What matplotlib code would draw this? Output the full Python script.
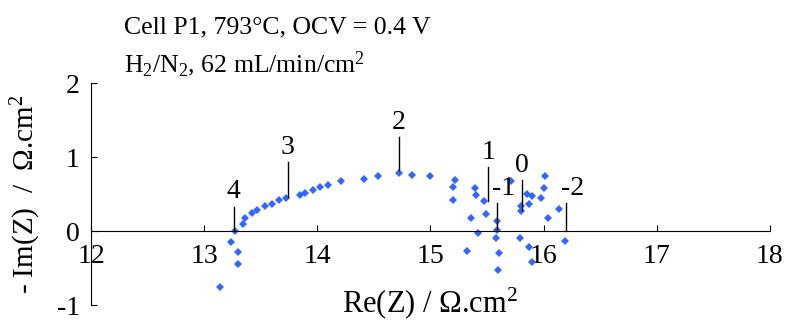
import matplotlib
matplotlib.use("Agg")
import matplotlib.pyplot as plt

plt.rcParams['font.family'] = ['Liberation Serif', 'DejaVu Serif']
plt.rcParams['mathtext.fontset'] = 'custom'
plt.rcParams['mathtext.rm'] = 'Liberation Serif'
plt.rcParams['mathtext.default'] = 'regular'
plt.rcParams['axes.unicode_minus'] = False

# Impedance spectrum (Nyquist): real part and negative imaginary part
re_z = [13.14, 13.30, 13.30, 13.24, 13.27, 13.34, 13.36, 13.42, 13.47, 13.54,
        13.60, 13.66, 13.72, 13.85, 13.89, 13.96, 14.02, 14.09, 14.21, 14.41,
        14.54, 14.72, 14.84, 15.00, 15.22, 15.20, 15.20, 15.39, 15.40, 15.47,
        15.49, 15.36, 15.42, 15.32, 15.59, 15.59, 15.58, 15.61, 15.60, 15.71,
        15.80, 15.80, 15.85, 15.90, 15.87, 15.79, 15.87, 15.90, 16.01, 16.00,
        15.98, 16.04, 16.14, 16.19]
neg_im_z = [-0.76, -0.45, -0.29, -0.15, 0.00, 0.10, 0.18, 0.24, 0.28, 0.34,
            0.37, 0.42, 0.44, 0.49, 0.51, 0.56, 0.59, 0.62, 0.67, 0.71,
            0.74, 0.78, 0.76, 0.74, 0.69, 0.59, 0.42, 0.58, 0.49, 0.41,
            0.23, 0.17, -0.02, -0.27, 0.13, 0.02, -0.10, -0.30, -0.53, 0.67,
            0.34, 0.27, 0.50, 0.48, 0.37, -0.10, -0.22, -0.42, 0.74, 0.58,
            0.44, 0.17, 0.30, -0.14]

# Frequency decade markers: label, leader foot, leader top, label offset in x
decade_labels = ["4", "3", "2", "1", "-1", "0", "-2"]
decade_x = [13.26, 13.74, 14.72, 15.51, 15.59, 15.81, 16.20]
decade_y = [0.00, 0.46, 0.82, 0.41, 0.03, 0.29, 0.00]
decade_top = [0.33, 0.93, 1.27, 0.86, 0.38, 0.69, 0.38]
decade_dx = [0.0, 0.0, 0.0, 0.0, 0.06, 0.0, 0.06]

fig = plt.figure(figsize=(7.92, 3.24), dpi=100)
ax = fig.add_axes([0.115, 0.0586, 0.857, 0.685])

ax.plot(re_z, neg_im_z, linestyle='none', marker='D', markersize=4.2,
        color='#3366FF', markeredgewidth=0)

for lab, x, y, top, dx in zip(decade_labels, decade_x, decade_y, decade_top, decade_dx):
    ax.plot([x, x], [y, top], color='black', linewidth=1)
    ax.text(x + dx, top + 0.03, lab, ha='center', va='bottom', fontsize=20)

ax.set_xlim(12, 18)
ax.set_ylim(-1, 2)
ax.set_xticks([12, 13, 14, 15, 16, 17, 18])
ax.set_yticks([-1, 0, 1, 2])

ax.spines['top'].set_visible(False)
ax.spines['right'].set_visible(False)
ax.spines['bottom'].set_position(('data', 0))
ax.tick_params(axis='both', direction='in', length=4, width=0.8, labelsize=20)
ax.tick_params(axis='x', pad=9)
ax.tick_params(axis='y', pad=8)

ax.set_ylabel(r'- Im(Z)  /  Ω.cm$^2$', fontsize=21)
ax.yaxis.set_label_coords(-0.071, 0.5)
ax.text(0.5, -0.034, r'Re(Z) / Ω.cm$^2$', transform=ax.transAxes,
        ha='center', va='baseline', fontsize=22)

fig.text(124 / 792, 1 - 33 / 324, 'Cell P1, 793°C, OCV = 0.4 V', fontsize=18.5,
         ha='left', va='baseline')
fig.text(124 / 792, 1 - 72 / 324, r'H$_2$/N$_2$, 62 mL/min/cm$^2$', fontsize=18.5,
         ha='left', va='baseline')

fig.savefig('out.png', dpi=100)
